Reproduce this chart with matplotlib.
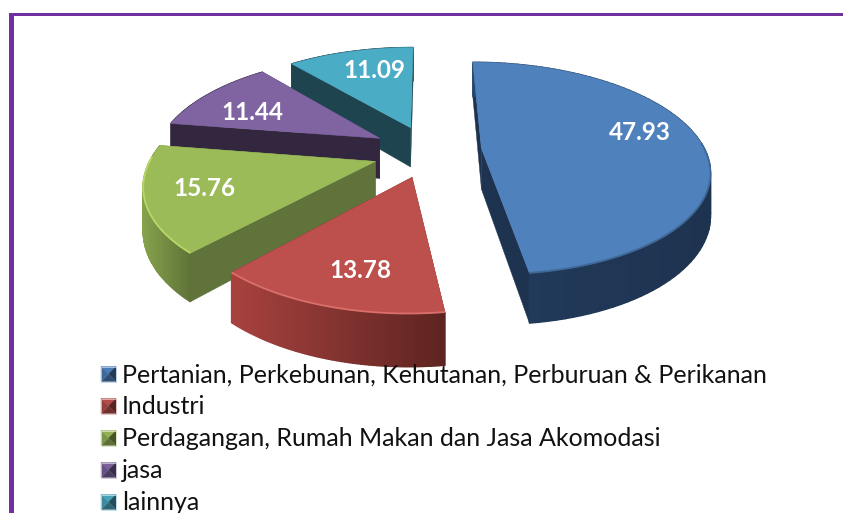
import numpy as np
import matplotlib
matplotlib.use('Agg')
import matplotlib.pyplot as plt
from matplotlib.colors import to_rgb
from matplotlib.patches import Polygon, Rectangle

# data
categories = ['Pertanian, Perkebunan, Kehutanan, Perburuan & Perikanan', 'Industri',
              'Perdagangan, Rumah Makan dan Jasa Akomodasi', 'jasa', 'lainnya']
values = [47.93, 13.78, 15.76, 11.44, 11.09]

# style
top_colors = ['#4f81bd', '#bd4f4c', '#9bbb59', '#8064a2', '#4bacc6']
wall_left = ['#27466b', '#a8423f', '#86a24c', '#33273f', '#1e444f']
wall_right = ['#1e3350', '#5e2421', '#5f7338', '#33273f', '#1e444f']
face_colors = ['#1e3350', '#5e2421', '#60733a', '#33273f', '#1e444f']
bevel_colors = ['#3f6896', '#d9706c', '#b9d86a', '#8064a2', '#4bacc6']
explode = [0.25, 0.26, 0.23, 0.232, 0.22]
nudge_x = [-0.01, 0.015, -0.005, -0.01, 0.0]
nudge_y = [0.0, 0.0, -0.03, 0.0, 0.015]
radius = [0.98, 0.95, 0.97, 0.98, 0.98]
wall_pow = [0.35, 1, 1, 1, 1]
label_pos = [(640, 133), (360, 271), (204, 189), (252, 112), (374, 71)]
draw_order = [4, 3, 0, 2, 1]

CX, CY = 427, 150
RX, RY = 228, 105
DIST = 5.2
DEPTH = 41


def project(x, y, z=0.0):
    # x, y on the pie plane (radius 1), z = drop below the top face
    f = DIST / (DIST + y)
    return CX + RX * x * f, CY - RY * y * f + z * f


def blend(c1, c2, t):
    a, b = np.array(to_rgb(c1)), np.array(to_rgb(c2))
    return tuple(a + (b - a) * t)


fig = plt.figure(figsize=(8.43, 5.13), dpi=100)
ax = fig.add_axes([0, 0, 1, 1])
ax.set_xlim(0, 843)
ax.set_ylim(513, 0)
ax.axis('off')

# frame
ax.add_patch(Rectangle((8.5, 13), 5.5, 500, fc='#7030a0', ec='none'))
ax.add_patch(Rectangle((8.5, 13), 835, 2.7, fc='#7030a0', ec='none'))

edges = np.concatenate([[0], np.cumsum(values)]) / np.sum(values) * 2 * np.pi

for i in draw_order:
    a0, a1 = edges[i], edges[i + 1]
    mid = (a0 + a1) / 2
    ox = explode[i] * np.sin(mid) + nudge_x[i]
    oy = explode[i] * np.cos(mid) + nudge_y[i]
    r = radius[i]
    th = np.linspace(a0, a1, 90)
    xs, ys = ox + r * np.sin(th), oy + r * np.cos(th)

    # straight side faces, the one further back first
    faces = sorted([a0, a1], key=lambda a: -np.cos(a))
    for a in faces:
        ex, ey = ox + r * np.sin(a), oy + r * np.cos(a)
        quad = [project(ox, oy), project(ex, ey), project(ex, ey, DEPTH), project(ox, oy, DEPTH)]
        ax.add_patch(Polygon(quad, fc=face_colors[i], ec=face_colors[i], lw=0.3))

    # outer wall in strips, colour runs left to right on the screen
    sx = np.array([project(x, y)[0] for x, y in zip(xs, ys)])
    for k in range(len(th) - 1):
        t = ((sx[k] - sx.min()) / (sx.max() - sx.min())) ** wall_pow[i]
        c = blend(wall_left[i], wall_right[i], t)
        quad = [project(xs[k], ys[k]), project(xs[k + 1], ys[k + 1]),
                project(xs[k + 1], ys[k + 1], DEPTH), project(xs[k], ys[k], DEPTH)]
        ax.add_patch(Polygon(quad, fc=c, ec=c, lw=1.0))

    # top face
    pts = [project(ox, oy)] + [project(x, y) for x, y in zip(xs, ys)]
    ax.add_patch(Polygon(pts, fc=top_colors[i], ec=top_colors[i], lw=0.4))

    # highlight on the front part of the rim
    front = np.cos(th) < 0.05
    if front.any():
        rim = np.array([project(x, y) for x, y in zip(xs[front], ys[front])])
        ax.plot(rim[:, 0], rim[:, 1], color=bevel_colors[i], lw=1.3, solid_capstyle='butt')

    ax.text(label_pos[i][0], label_pos[i][1], f'{values[i]:.2f}', color='white',
            fontsize=17.5, fontweight='bold', family='Lato', ha='center', va='center')

# legend
for i, name in enumerate(categories):
    y = 374 + i * 32
    x0, x1, y0, y1 = 101, 116, y - 7.5, y + 7.5
    mx, my = (x0 + x1) / 2, (y0 + y1) / 2
    base = np.array(to_rgb(top_colors[i]))
    shades = [base * 0.95, base * 0.45, base * 0.6, base * 0.8]
    tris = [[(x0, y0), (x1, y0), (mx, my)], [(x1, y0), (x1, y1), (mx, my)],
            [(x1, y1), (x0, y1), (mx, my)], [(x0, y1), (x0, y0), (mx, my)]]
    for tri, s in zip(tris, shades):
        ax.add_patch(Polygon(tri, fc=s, ec=s, lw=0.2))
    ax.add_patch(Rectangle((x0, y0), x1 - x0, y1 - y0, fc='none', ec=blend(top_colors[i], 'white', 0.6), lw=0.6))
    ax.text(122, y + 1, name, color='#111111', fontsize=18, family='Lato', ha='left', va='center')

fig.savefig('out.png', dpi=100)
